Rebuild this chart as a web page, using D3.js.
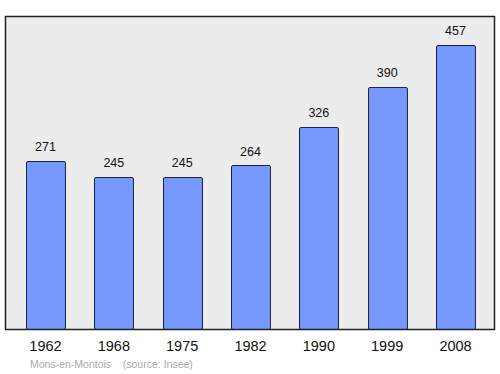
<!DOCTYPE html>
<html>
<head>
<meta charset="utf-8">
<script src="https://cdn.jsdelivr.net/npm/d3@7"></script>
<style>
  body { margin: 0; background: #fff; }
  text { font-family: "Liberation Sans", Arial, sans-serif; }
</style>
</head>
<body>
<div id="chart"></div>
<script>
// population by census year
var years = ["1962", "1968", "1975", "1982", "1990", "1999", "2008"];
var population = [271, 245, 245, 264, 326, 390, 457];
var sourceText = "Mons-en-Montois    (source: Insee)";

var width = 500, height = 374;
var frame = {left: 5.5, top: 16.5, right: 494.5, bottom: 329.5};

var svg = d3.select("#chart")
  .append("svg")
  .attr("width", width)
  .attr("height", height);

var data = years.map(function(y, i){ return {year: y, value: population[i]}; });

var x = d3.scaleBand()
  .domain(years)
  .range([11.33, 489.67])
  .paddingInner(0.43)
  .paddingOuter(0.215);

var y = d3.scaleLinear()
  .domain([0, d3.max(population) * 1.1])
  .range([frame.bottom, frame.top]);

// plot background
svg.append("rect")
  .attr("x", frame.left)
  .attr("y", frame.top)
  .attr("width", frame.right - frame.left)
  .attr("height", frame.bottom - frame.top)
  .attr("fill", "#ececec")
  .attr("stroke", "none");

// bars
svg.selectAll("rect.bar")
  .data(data)
  .enter().append("rect")
  .attr("class", "bar")
  .attr("x", function(d){ return Math.round(x(d.year)) + 0.5; })
  .attr("y", function(d){ return Math.round(y(d.value)) + 0.5; })
  .attr("width", x.bandwidth())
  .attr("height", function(d){ return frame.bottom - Math.round(y(d.value)) - 0.5; })
  .attr("rx", 1.5)
  .attr("fill", "#7799ff")
  .attr("stroke", "#1a2244")
  .attr("stroke-width", 1);

// frame border
svg.append("rect")
  .attr("x", frame.left)
  .attr("y", frame.top)
  .attr("width", frame.right - frame.left)
  .attr("height", frame.bottom - frame.top)
  .attr("fill", "none")
  .attr("stroke", "#222")
  .attr("stroke-width", 1.5);

// value labels
svg.selectAll("text.value")
  .data(data)
  .enter().append("text")
  .attr("class", "value")
  .attr("x", function(d){ return x(d.year) + x.bandwidth() / 2; })
  .attr("y", function(d){ return y(d.value) - 9.5; })
  .attr("text-anchor", "middle")
  .attr("font-size", 12.5)
  .attr("fill", "#111")
  .text(function(d){ return d.value; });

// year axis
var axis = svg.append("g")
  .attr("transform", "translate(0," + frame.bottom + ")")
  .call(d3.axisBottom(x).tickSize(0).tickPadding(11));
axis.select(".domain").remove();
axis.selectAll("text")
  .attr("font-size", 14.5)
  .attr("font-family", "Liberation Sans, Arial, sans-serif")
  .attr("fill", "#111");

// source note
svg.append("text")
  .attr("x", 30)
  .attr("y", 368)
  .attr("font-size", 10.5)
  .attr("fill", "#aaa")
  .attr("xml:space", "preserve")
  .style("white-space", "pre")
  .text(sourceText);
</script>
</body>
</html>
